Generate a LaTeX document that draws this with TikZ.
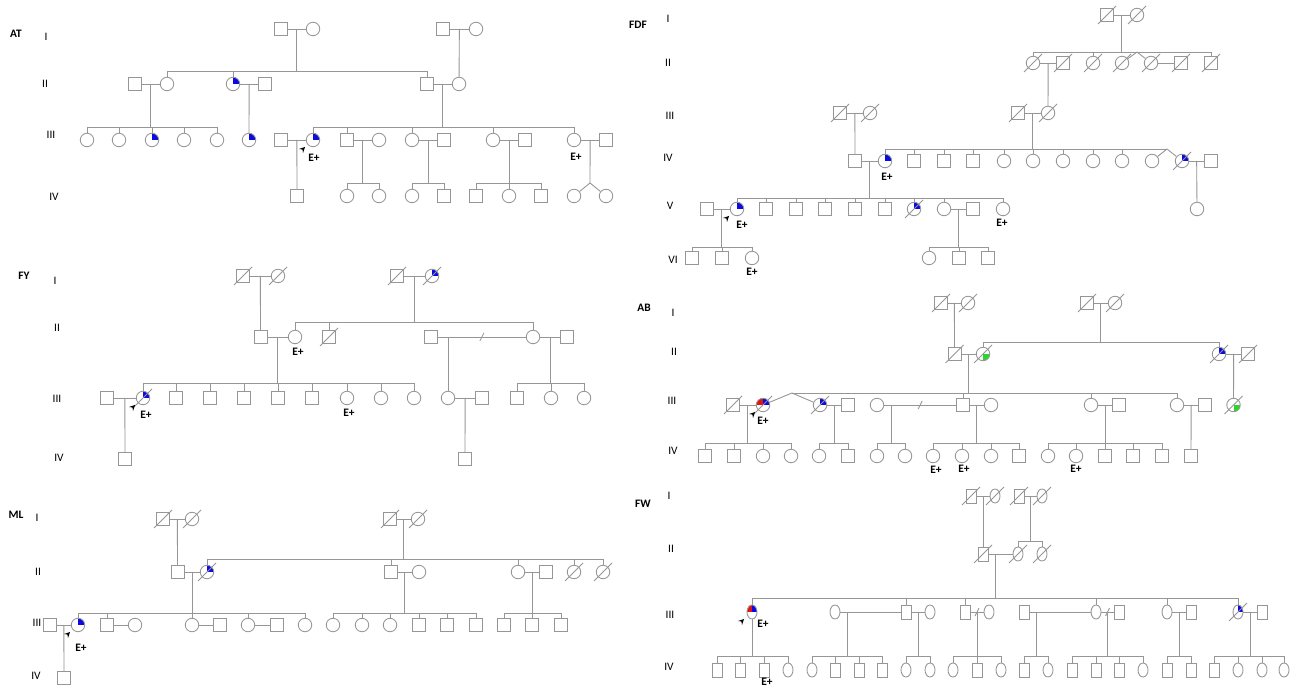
\documentclass[tikz,border=0pt]{standalone}
\usepackage{fontspec}
\setmainfont{Carlito}
\usetikzlibrary{shapes.geometric, arrows, positioning, calc}
\definecolor{pedgray}{RGB}{150,150,150}
\definecolor{affblue}{RGB}{10,10,225}
\definecolor{affred}{RGB}{225,20,20}
\definecolor{affgreen}{RGB}{40,215,40}

% sibship: parent point, bar height, children
\newcommand{\sibs}[3]{\draw[pedline] (#1) -- (#1 |- 0,#2);
  \foreach \who in {#3}{\draw[pedline] (\who) |- (#1 |- 0,#2);}}
\newcommand{\deceased}[1]{\foreach \who in {#1}{\draw[pedline] ([shift={(-9,9)}]\who.center) -- ([shift={(9,-9)}]\who.center);}}
\newcommand{\proband}[1]{\draw[proarrow] ([shift={(-11,10)}]#1.center) -- ([shift={(-8,7)}]#1.center);}
\newcommand{\breakmark}[1]{\draw[pedline] ([shift={(-2,4)}]#1) -- ([shift={(2,-4)}]#1);}

\begin{document}
\begin{tikzpicture}[
    x={(0.02cm,0)}, y={(0,-0.02cm)},
    pedline/.style={draw=pedgray, line width=0.5pt},
    person/.style={draw=pedgray, line width=0.5pt, fill=white, inner sep=0pt},
    male/.style={person, rectangle, minimum size=0.26cm},
    female/.style={person, circle, minimum size=0.27cm},
    fwmale/.style={person, rectangle, minimum width=0.2cm, minimum height=0.28cm},
    fwfemale/.style={person, ellipse, minimum width=0.2cm, minimum height=0.28cm},
    aff/.style={path picture={\fill[affblue] (path picture bounding box.center) rectangle (path picture bounding box.north east);}},
    affrb/.style={path picture={\fill[affred] (path picture bounding box.center) rectangle (path picture bounding box.north west);
        \fill[affblue] (path picture bounding box.center) rectangle (path picture bounding box.north east);}},
    affgr/.style={path picture={\fill[affgreen] (path picture bounding box.center) rectangle (path picture bounding box.south east);}},
    famlbl/.style={font=\bfseries\fontsize{6.5}{7}\selectfont},
    genlbl/.style={font=\fontsize{6.5}{7}\selectfont},
    eplus/.style={font=\bfseries\fontsize{6.5}{7}\selectfont},
    proarrow/.style={->, >=stealth, black, line width=0.4pt}
]
    \fill[white] (0,0) rectangle (1290,688);
    \useasboundingbox (0,0) rectangle (1290,688);

    % ---------------- AT ----------------
    \node[famlbl] (atname) at (16,34) {AT};
    \node[genlbl] (atg1) at (46,37) {I};
    \node[genlbl] (atg2) at (45,84) {II};
    \node[genlbl] (atg3) at (51,135) {III};
    \node[genlbl] (atg4) at (54,197) {IV};
    \node[male] (atI1) at (281,29) {}; \node[female] (atI2) at (313,29) {};
    \node[male] (atI3) at (443,29) {}; \node[female] (atI4) at (476,29) {};
    \node[male] (atII1) at (135,84) {}; \node[female] (atII2) at (167,84) {};
    \node[female,aff] (atII3) at (233,84) {}; \node[male] (atII4) at (265,84) {};
    \node[male] (atII5) at (427,84) {}; \node[female] (atII6) at (459,84) {};
    \node[female] (atIII1) at (87,140) {}; \node[female] (atIII2) at (119,140) {};
    \node[female,aff] (atIII3) at (152,140) {}; \node[female] (atIII4) at (184,140) {};
    \node[female] (atIII5) at (217,140) {}; \node[female,aff] (atIII6) at (249,140) {};
    \node[male] (atIII7) at (281,140) {}; \node[female,aff] (atIII8) at (313,140) {};
    \node[male] (atIII9) at (347,140) {}; \node[female] (atIII10) at (379,140) {};
    \node[female] (atIII11) at (412,140) {}; \node[male] (atIII12) at (444,140) {};
    \node[female] (atIII13) at (493,140) {}; \node[male] (atIII14) at (525,140) {};
    \node[female] (atIII15) at (574,140) {}; \node[male] (atIII16) at (606,140) {};
    \node[male] (atIV1) at (297,196) {}; \node[female] (atIV2) at (347,196) {};
    \node[female] (atIV3) at (379,196) {}; \node[female] (atIV4) at (412,196) {};
    \node[male] (atIV5) at (444,196) {}; \node[male] (atIV6) at (476,196) {};
    \node[female] (atIV7) at (509,196) {}; \node[male] (atIV8) at (541,196) {};
    \node[female] (atIV9) at (574,196) {}; \node[female] (atIV10) at (606,196) {};
    \node[eplus] (atE1) at (314,158) {E+};
    \node[eplus] (atE2) at (576,157) {E+};

    \draw[pedline] (atI1) -- coordinate (atm1) (atI2);
    \draw[pedline] (atI3) -- coordinate (atm2) (atI4);
    \draw[pedline] (atII1) -- coordinate (atm3) (atII2);
    \draw[pedline] (atII3) -- coordinate (atm4) (atII4);
    \draw[pedline] (atII5) -- coordinate (atm5) (atII6);
    \draw[pedline] (atIII7) -- coordinate (atm6) (atIII8);
    \draw[pedline] (atIII9) -- coordinate (atm7) (atIII10);
    \draw[pedline] (atIII11) -- coordinate (atm8) (atIII12);
    \draw[pedline] (atIII13) -- coordinate (atm9) (atIII14);
    \draw[pedline] (atIII15) -- coordinate (atm10) (atIII16);
    \sibs{atm1}{71}{atII2,atII3,atII5}
    \draw[pedline] (atm2) -- (atII6);
    \sibs{atm3}{127}{atIII1,atIII2,atIII3,atIII4,atIII5}
    \draw[pedline] (atm4) -- (atIII6);
    \sibs{atm5}{127}{atIII8,atIII9,atIII11,atIII13,atIII15}
    \draw[pedline] (atm6) -- (atIV1);
    \sibs{atm7}{183}{atIV2,atIV3}
    \sibs{atm8}{183}{atIV4,atIV5}
    \sibs{atm9}{183}{atIV6,atIV7,atIV8}
    \coordinate (attw) at (590,183);
    \draw[pedline] (atm10) -- (attw);
    \draw[pedline] (attw) -- (atIV9);
    \draw[pedline] (attw) -- (atIV10);
    \proband{atIII8}

    % ---------------- FDF ----------------
    \node[famlbl] (fdname) at (638,25) {FDF};
    \node[genlbl] (fdg1) at (668,19) {I};
    \node[genlbl] (fdg2) at (668,63) {II};
    \node[genlbl] (fdg3) at (670,116) {III};
    \node[genlbl] (fdg4) at (668,158) {IV};
    \node[genlbl] (fdg5) at (670,206) {V};
    \node[genlbl] (fdg6) at (673,260) {VI};
    \node[male] (fdI1) at (1107,15) {}; \node[female] (fdI2) at (1137,15) {};
    \node[female] (fdII1) at (1033,63) {}; \node[male] (fdII2) at (1063,63) {};
    \node[female] (fdII3) at (1093,63) {}; \node[female] (fdII4) at (1122,63) {};
    \node[female] (fdII5) at (1151,63) {}; \node[male] (fdII6) at (1181,63) {};
    \node[male] (fdII7) at (1211,63) {};
    \node[male] (fdIII1) at (840,113) {}; \node[female] (fdIII2) at (870,113) {};
    \node[male] (fdIII3) at (1018,113) {}; \node[female] (fdIII4) at (1048,113) {};
    \node[male] (fdIV1) at (855,161) {}; \node[female,aff] (fdIV2) at (885,161) {};
    \node[male] (fdIV3) at (914,161) {}; \node[male] (fdIV4) at (944,161) {};
    \node[male] (fdIV5) at (973,161) {}; \node[female] (fdIV6) at (1004,161) {};
    \node[female] (fdIV7) at (1033,161) {}; \node[female] (fdIV8) at (1063,161) {};
    \node[female] (fdIV9) at (1093,161) {}; \node[female] (fdIV10) at (1122,161) {};
    \node[female] (fdIV11) at (1152,161) {}; \node[female,aff] (fdIV12) at (1182,161) {};
    \node[male] (fdIV13) at (1211,161) {};
    \node[male] (fdV1) at (707,209) {}; \node[female,aff] (fdV2) at (737,209) {};
    \node[male] (fdV3) at (766,209) {}; \node[male] (fdV4) at (796,209) {};
    \node[male] (fdV5) at (825,209) {}; \node[male] (fdV6) at (855,209) {};
    \node[male] (fdV7) at (885,209) {}; \node[female,aff] (fdV8) at (914,209) {};
    \node[female] (fdV9) at (944,209) {}; \node[male] (fdV10) at (973,209) {};
    \node[female] (fdV11) at (1003,209) {}; \node[female] (fdV12) at (1197,209) {};
    \node[male] (fdVI1) at (692,258) {}; \node[male] (fdVI2) at (722,258) {};
    \node[female] (fdVI3) at (752,258) {}; \node[female] (fdVI4) at (929,258) {};
    \node[male] (fdVI5) at (959,258) {}; \node[male] (fdVI6) at (988,258) {};
    \node[eplus] (fdE1) at (887,177) {E+};
    \node[eplus] (fdE2) at (742,225) {E+};
    \node[eplus] (fdE3) at (752,272) {E+};
    \node[eplus] (fdE4) at (1002,223) {E+};

    \draw[pedline] (fdI1) -- coordinate (fdm1) (fdI2);
    \draw[pedline] (fdII1) -- coordinate (fdm2) (fdII2);
    \draw[pedline] (fdII5) -- (fdII6);
    \draw[pedline] (fdIII1) -- coordinate (fdm3) (fdIII2);
    \draw[pedline] (fdIII3) -- coordinate (fdm4) (fdIII4);
    \draw[pedline] (fdIV1) -- coordinate (fdm5) (fdIV2);
    \draw[pedline] (fdIV12) -- coordinate (fdm6) (fdIV13);
    \draw[pedline] (fdV1) -- coordinate (fdm7) (fdV2);
    \draw[pedline] (fdV9) -- coordinate (fdm8) (fdV10);
    \coordinate (fdtw1) at (1137,52);
    \sibs{fdm1}{52}{fdII1,fdII3,fdtw1,fdII7}
    \draw[pedline] (fdtw1) -- (fdII4);
    \draw[pedline] (fdtw1) -- (fdII5);
    \draw[pedline] (fdm2) -- (fdIII4);
    \draw[pedline] (fdm3) -- (fdIV1);
    \coordinate (fdtw2) at (1167,149);
    \sibs{fdm4}{149}{fdIV2,fdIV3,fdIV4,fdIV5,fdIV6,fdIV7,fdIV8,fdIV9,fdIV10,fdtw2}
    \draw[pedline] (fdtw2) -- (fdIV11);
    \draw[pedline] (fdtw2) -- (fdIV12);
    \sibs{fdm5}{198}{fdV2,fdV3,fdV4,fdV5,fdV6,fdV7,fdV8,fdV9,fdV11}
    \draw[pedline] (fdm6) -- (fdV12);
    \sibs{fdm7}{247}{fdVI1,fdVI2,fdVI3}
    \sibs{fdm8}{247}{fdVI4,fdVI5,fdVI6}
    \deceased{fdI1,fdI2,fdII1,fdII2,fdII3,fdII4,fdII5,fdII6,fdII7,fdIII1,fdIII2,fdIII3,fdIII4,fdIV12,fdV8}
    \proband{fdV2}

    % ---------------- FY ----------------
    \node[famlbl] (fyname) at (24,276) {FY};
    \node[genlbl] (fyg1) at (55,281) {I};
    \node[genlbl] (fyg2) at (57,328) {II};
    \node[genlbl] (fyg3) at (57,399) {III};
    \node[genlbl] (fyg4) at (59,458) {IV};
    \node[male] (fyI1) at (243,276) {}; \node[female] (fyI2) at (278,276) {};
    \node[male] (fyI3) at (397,276) {}; \node[female,aff] (fyI4) at (432,276) {};
    \node[male] (fyII1) at (260.5,337) {}; \node[female] (fyII2) at (295,337) {};
    \node[male] (fyII3) at (329,337) {}; \node[male] (fyII4) at (431,337) {};
    \node[female] (fyII5) at (533,337) {}; \node[male] (fyII6) at (567,337) {};
    \node[male] (fyIII1) at (107,398) {}; \node[female,aff] (fyIII2) at (143,398) {};
    \node[male] (fyIII3) at (176,398) {}; \node[male] (fyIII4) at (210,398) {};
    \node[male] (fyIII5) at (244,398) {}; \node[male] (fyIII6) at (278,398) {};
    \node[male] (fyIII7) at (312,398) {}; \node[female] (fyIII8) at (347,398) {};
    \node[female] (fyIII9) at (381,398) {}; \node[female] (fyIII10) at (414,398) {};
    \node[female] (fyIII11) at (448,398) {}; \node[male] (fyIII12) at (482,398) {};
    \node[male] (fyIII13) at (517,398) {}; \node[female] (fyIII14) at (551,398) {};
    \node[female] (fyIII15) at (584,398) {};
    \node[male] (fyIV1) at (125,459) {}; \node[male] (fyIV2) at (465,459) {};
    \node[eplus] (fyE1) at (298,352) {E+};
    \node[eplus] (fyE2) at (146,415) {E+};
    \node[eplus] (fyE3) at (349,413) {E+};

    \draw[pedline] (fyI1) -- coordinate (fym1) (fyI2);
    \draw[pedline] (fyI3) -- coordinate (fym2) (fyI4);
    \draw[pedline] (fyII1) -- coordinate (fym3) (fyII2);
    \draw[pedline] (fyII4) -- coordinate (fyb1) (fyII5);
    \coordinate (fym4) at (448,337);
    \draw[pedline] (fyII5) -- coordinate (fym5) (fyII6);
    \draw[pedline] (fyIII1) -- coordinate (fym6) (fyIII2);
    \draw[pedline] (fyIII11) -- coordinate (fym7) (fyIII12);
    \breakmark{fyb1}
    \draw[pedline] (fym1) -- (fyII1);
    \sibs{fym2}{322}{fyII2,fyII3,fyII5}
    \sibs{fym3}{383}{fyIII2,fyIII3,fyIII4,fyIII5,fyIII6,fyIII7,fyIII8,fyIII9,fyIII10}
    \draw[pedline] (fym4) -- (fyIII11);
    \sibs{fym5}{383}{fyIII13,fyIII14,fyIII15}
    \draw[pedline] (fym6) -- (fyIV1);
    \draw[pedline] (fym7) -- (fyIV2);
    \deceased{fyI1,fyI2,fyI3,fyI4,fyII3,fyIII2}
    \proband{fyIII2}

    % ---------------- AB ----------------
    \node[famlbl] (abname) at (644,308) {AB};
    \node[genlbl] (abg1) at (673,313) {I};
    \node[genlbl] (abg2) at (674,352) {II};
    \node[genlbl] (abg3) at (672,401) {III};
    \node[genlbl] (abg4) at (673,451) {IV};
    \node[male] (abI1) at (941,303) {}; \node[female] (abI2) at (968,303) {};
    \node[male] (abI3) at (1087,303) {}; \node[female] (abI4) at (1115,303) {};
    \node[male] (abII1) at (954.5,354) {}; \node[female,affgr] (abII2) at (983,354) {};
    \node[female,aff] (abII3) at (1219,354) {}; \node[male] (abII4) at (1248,354) {};
    \node[male] (abIII1) at (733,405) {}; \node[female,affrb] (abIII2) at (763,405) {};
    \node[female,aff] (abIII3) at (820,405) {}; \node[male] (abIII4) at (848,405) {};
    \node[female] (abIII5) at (877,405) {}; \node[male] (abIII6) at (963,405) {};
    \node[female] (abIII7) at (991,405) {}; \node[female] (abIII8) at (1091,405) {};
    \node[male] (abIII9) at (1119,405) {}; \node[female] (abIII10) at (1177,405) {};
    \node[male] (abIII11) at (1205,405) {}; \node[female,affgr] (abIII12) at (1233.5,405) {};
    \node[male] (abIV1) at (705,456) {}; \node[male] (abIV2) at (734,456) {};
    \node[female] (abIV3) at (763,456) {}; \node[female] (abIV4) at (791,456) {};
    \node[female] (abIV5) at (819,456) {}; \node[male] (abIV6) at (848,456) {};
    \node[female] (abIV7) at (877,456) {}; \node[female] (abIV8) at (905,456) {};
    \node[female] (abIV9) at (933,456) {}; \node[female] (abIV10) at (962,456) {};
    \node[female] (abIV11) at (991,456) {}; \node[male] (abIV12) at (1019,456) {};
    \node[female] (abIV13) at (1048,456) {}; \node[female] (abIV14) at (1076,456) {};
    \node[male] (abIV15) at (1105,456) {}; \node[male] (abIV16) at (1133,456) {};
    \node[male] (abIV17) at (1162,456) {}; \node[male] (abIV18) at (1191,456) {};
    \node[eplus] (abE1) at (763,421) {E+};
    \node[eplus] (abE2) at (936,470) {E+};
    \node[eplus] (abE3) at (964,469) {E+};
    \node[eplus] (abE4) at (1076,469) {E+};

    \draw[pedline] (abI1) -- coordinate (abm1) (abI2);
    \draw[pedline] (abI3) -- coordinate (abm2) (abI4);
    \draw[pedline] (abII1) -- coordinate (abm3) (abII2);
    \draw[pedline] (abII3) -- coordinate (abm4) (abII4);
    \draw[pedline] (abIII1) -- coordinate (abm5) (abIII2);
    \draw[pedline] (abIII3) -- coordinate (abm6) (abIII4);
    \draw[pedline] (abIII5) -- coordinate (abb1) (abIII6);
    \coordinate (abm7) at (891,405);
    \draw[pedline] (abIII6) -- coordinate (abm8) (abIII7);
    \draw[pedline] (abIII8) -- coordinate (abm9) (abIII9);
    \draw[pedline] (abIII10) -- coordinate (abm10) (abIII11);
    \breakmark{abb1}
    \draw[pedline] (abm1) -- (abII1);
    \sibs{abm2}{342}{abII2,abII3}
    \coordinate (abtw) at (792,393);
    \sibs{abm3}{393}{abtw,abIII6,abIII8,abIII10}
    \draw[pedline] (abtw) -- (abIII2);
    \draw[pedline] (abtw) -- (abIII3);
    \draw[pedline] (abm4) -- (abIII12);
    \sibs{abm5}{443}{abIV1,abIV2,abIV3,abIV4}
    \sibs{abm6}{443}{abIV5,abIV6}
    \sibs{abm7}{443}{abIV7,abIV8}
    \sibs{abm8}{443}{abIV9,abIV10,abIV11,abIV12}
    \sibs{abm9}{443}{abIV13,abIV14,abIV15,abIV16,abIV17}
    \draw[pedline] (abm10) -- (abIV18);
    \deceased{abI1,abI2,abI3,abI4,abII1,abII2,abII3,abII4,abIII1,abIII2,abIII3,abIII12}
    \proband{abIII2}

    % ---------------- ML ----------------
    \node[famlbl] (mlname) at (16,515) {ML};
    \node[genlbl] (mlg1) at (37,518) {I};
    \node[genlbl] (mlg2) at (38,572) {II};
    \node[genlbl] (mlg3) at (37,623) {III};
    \node[genlbl] (mlg4) at (36,676) {IV};
    \node[male] (mlI1) at (163,519) {}; \node[female] (mlI2) at (192,519) {};
    \node[male] (mlI3) at (390,519) {}; \node[female] (mlI4) at (418,519) {};
    \node[male] (mlII1) at (177.5,572) {}; \node[female,aff] (mlII2) at (207,572) {};
    \node[male] (mlII3) at (391,572) {}; \node[female] (mlII4) at (419,572) {};
    \node[female] (mlII5) at (518,572) {}; \node[male] (mlII6) at (546,572) {};
    \node[female] (mlII7) at (574,572) {}; \node[female] (mlII8) at (603,572) {};
    \node[male] (mlIII1) at (50,625) {}; \node[female,aff] (mlIII2) at (78,625) {};
    \node[male] (mlIII3) at (107,625) {}; \node[female] (mlIII4) at (135,625) {};
    \node[female] (mlIII5) at (192,625) {}; \node[male] (mlIII6) at (220,625) {};
    \node[female] (mlIII7) at (248,625) {}; \node[male] (mlIII8) at (277,625) {};
    \node[female] (mlIII9) at (305,625) {}; \node[female] (mlIII10) at (333,625) {};
    \node[female] (mlIII11) at (362,625) {}; \node[female] (mlIII12) at (390,625) {};
    \node[male] (mlIII13) at (419,625) {}; \node[male] (mlIII14) at (447,625) {};
    \node[male] (mlIII15) at (476,625) {}; \node[male] (mlIII16) at (504,625) {};
    \node[male] (mlIII17) at (532,625) {}; \node[male] (mlIII18) at (561,625) {};
    \node[male] (mlIV1) at (64,678) {};
    \node[eplus] (mlE1) at (81,648) {E+};

    \draw[pedline] (mlI1) -- coordinate (mlm1) (mlI2);
    \draw[pedline] (mlI3) -- coordinate (mlm2) (mlI4);
    \draw[pedline] (mlII1) -- coordinate (mlm3) (mlII2);
    \draw[pedline] (mlII3) -- coordinate (mlm4) (mlII4);
    \draw[pedline] (mlII5) -- coordinate (mlm5) (mlII6);
    \draw[pedline] (mlIII1) -- coordinate (mlm6) (mlIII2);
    \draw[pedline] (mlIII3) -- (mlIII4);
    \draw[pedline] (mlIII5) -- (mlIII6);
    \draw[pedline] (mlIII7) -- (mlIII8);
    \draw[pedline] (mlm1) -- (mlII1);
    \sibs{mlm2}{559}{mlII2,mlII3,mlII5,mlII7,mlII8}
    \sibs{mlm3}{613}{mlIII2,mlIII3,mlIII5,mlIII7,mlIII9}
    \sibs{mlm4}{613}{mlIII10,mlIII11,mlIII12,mlIII13,mlIII14,mlIII15}
    \sibs{mlm5}{613}{mlIII16,mlIII17,mlIII18}
    \draw[pedline] (mlm6) -- (mlIV1);
    \deceased{mlI1,mlI2,mlI3,mlI4,mlII2,mlII7,mlII8}
    \proband{mlIII2}

    % ---------------- FW ----------------
    \node[famlbl] (fwname) at (643,504) {FW};
    \node[genlbl] (fwg1) at (669,496) {I};
    \node[genlbl] (fwg2) at (671,549) {II};
    \node[genlbl] (fwg3) at (670,615) {III};
    \node[genlbl] (fwg4) at (669,667) {IV};
    \node[fwmale] (fwI1) at (971,496) {}; \node[fwfemale] (fwI2) at (995,496) {};
    \node[fwmale] (fwI3) at (1019,496) {}; \node[fwfemale] (fwI4) at (1042,496) {};
    \node[fwmale] (fwII1) at (983,554) {}; \node[fwfemale] (fwII2) at (1018,554) {};
    \node[fwfemale] (fwII3) at (1042,554) {};
    \node[fwfemale,affrb] (fwIII1) at (752,612) {}; \node[fwfemale] (fwIII2) at (835,612) {};
    \node[fwmale] (fwIII3) at (906,612) {}; \node[fwfemale] (fwIII4) at (930,612) {};
    \node[fwmale] (fwIII5) at (965,612) {}; \node[fwfemale] (fwIII6) at (989,612) {};
    \node[fwmale] (fwIII7) at (1024,612) {}; \node[fwfemale] (fwIII8) at (1096,612) {};
    \node[fwmale] (fwIII9) at (1119,612) {}; \node[fwfemale] (fwIII10) at (1167,612) {};
    \node[fwmale] (fwIII11) at (1191,612) {}; \node[fwfemale,aff] (fwIII12) at (1238,612) {};
    \node[fwmale] (fwIII13) at (1262,612) {};
    \node[fwmale] (fwIV1) at (717,670) {}; \node[fwmale] (fwIV2) at (740,670) {};
    \node[fwmale] (fwIV3) at (764,670) {}; \node[fwfemale] (fwIV4) at (788,670) {};
    \node[fwfemale] (fwIV5) at (812,670) {}; \node[fwmale] (fwIV6) at (835,670) {};
    \node[fwmale] (fwIV7) at (859,670) {}; \node[fwmale] (fwIV8) at (882,670) {};
    \node[fwfemale] (fwIV9) at (906,670) {}; \node[fwfemale] (fwIV10) at (930,670) {};
    \node[fwfemale] (fwIV11) at (953,670) {}; \node[fwmale] (fwIV12) at (977,670) {};
    \node[fwfemale] (fwIV13) at (1001,670) {}; \node[fwmale] (fwIV14) at (1024,670) {};
    \node[fwfemale] (fwIV15) at (1048,670) {}; \node[fwmale] (fwIV16) at (1072,670) {};
    \node[fwmale] (fwIV17) at (1096,670) {}; \node[fwmale] (fwIV18) at (1119,670) {};
    \node[fwfemale] (fwIV19) at (1143,670) {}; \node[fwmale] (fwIV20) at (1167,670) {};
    \node[fwmale] (fwIV21) at (1191,670) {}; \node[fwmale] (fwIV22) at (1214,670) {};
    \node[fwfemale] (fwIV23) at (1238,670) {}; \node[fwfemale] (fwIV24) at (1262,670) {};
    \node[fwfemale] (fwIV25) at (1284,670) {};
    \node[eplus] (fwE1) at (763,624) {E+};
    \node[eplus] (fwE2) at (767,682) {E+};

    \draw[pedline] (fwI1) -- coordinate (fwm1) (fwI2);
    \draw[pedline] (fwI3) -- coordinate (fwm2) (fwI4);
    \draw[pedline] (fwII1) -- (fwII2);
    \coordinate (fwm3) at (995,554);
    \draw[pedline] (fwIII2) -- (fwIII3);
    \coordinate (fwm4) at (847,612);
    \draw[pedline] (fwIII3) -- coordinate (fwm5) (fwIII4);
    \draw[pedline] (fwIII5) -- coordinate (fwm6) (fwIII6);
    \draw[pedline] (fwIII7) -- (fwIII8);
    \coordinate (fwm7) at (1036,612);
    \draw[pedline] (fwIII8) -- coordinate (fwm8) (fwIII9);
    \draw[pedline] (fwIII10) -- coordinate (fwm9) (fwIII11);
    \draw[pedline] (fwIII12) -- coordinate (fwm10) (fwIII13);
    \breakmark{fwm6}
    \breakmark{fwm8}
    \draw[pedline] (fwm1) -- (fwII1);
    \sibs{fwm2}{541}{fwII2,fwII3}
    \sibs{fwm3}{598}{fwIII1,fwIII3,fwIII5,fwIII8,fwIII10,fwIII12}
    \sibs{fwIII1}{656}{fwIV1,fwIV2,fwIV3,fwIV4}
    \sibs{fwm4}{656}{fwIV5,fwIV6,fwIV7,fwIV8}
    \sibs{fwm5}{656}{fwIV9,fwIV10}
    \sibs{fwm6}{656}{fwIV11,fwIV12,fwIV13}
    \sibs{fwm7}{656}{fwIV14,fwIV15}
    \sibs{fwm8}{656}{fwIV16,fwIV17,fwIV18,fwIV19}
    \sibs{fwm9}{656}{fwIV20,fwIV21}
    \sibs{fwm10}{656}{fwIV22,fwIV23,fwIV24,fwIV25}
    \deceased{fwI1,fwI2,fwI3,fwI4,fwII1,fwII2,fwII3,fwIII12}
    \proband{fwIII1}

\end{tikzpicture}
\end{document}
